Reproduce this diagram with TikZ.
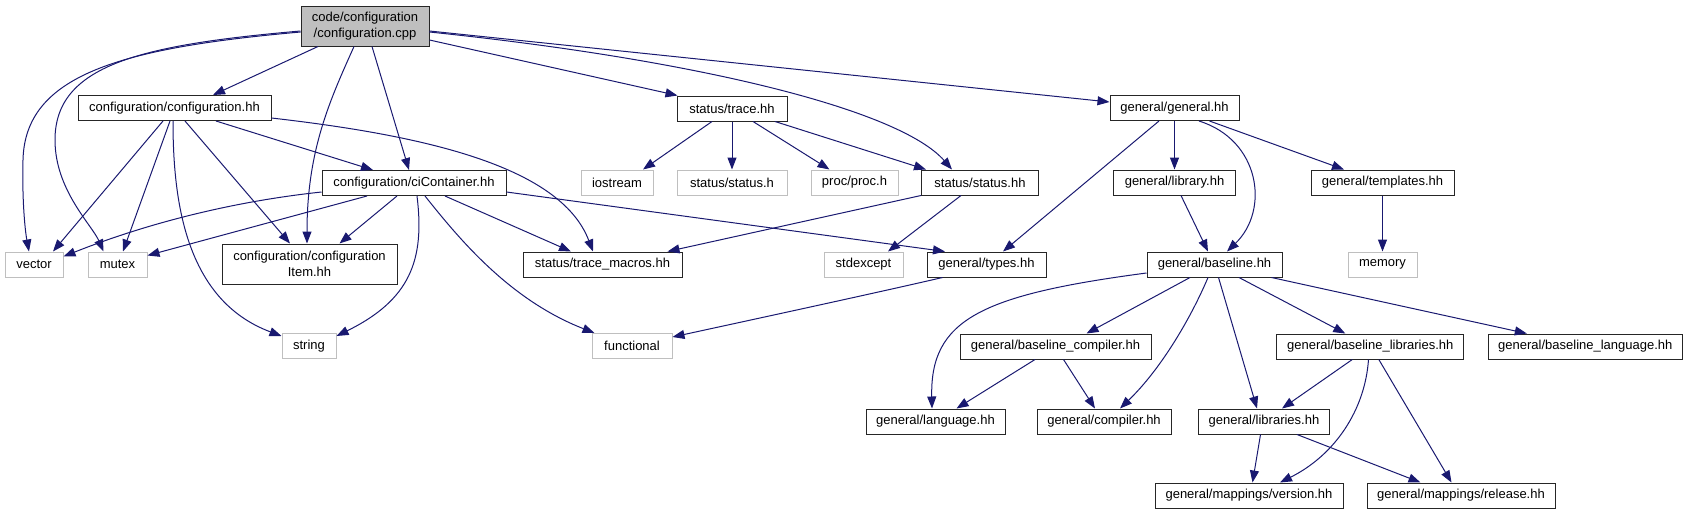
\documentclass[tikz,border=0pt]{standalone}
\usepackage{fontspec}
\setmainfont{Liberation Sans}
\usetikzlibrary{arrows.meta,calc}
\definecolor{edgeblue}{HTML}{191970}
\definecolor{greyline}{HTML}{BFBFBF}
\begin{document}
\begin{tikzpicture}[x=1pt,y=-1pt,
  filebox/.style={draw=black!85,line width=1pt,fill=white,inner sep=0pt,minimum height=25pt,align=center,font=\fontsize{13}{16.5}\selectfont},
  extbox/.style={filebox,draw=greyline},
  dep/.style={draw=edgeblue,line width=1pt,-{Triangle[length=12pt,width=9pt]}}]
\useasboundingbox (0,0) rectangle (1687,515);

\node[filebox,fill=greyline,minimum width=128pt,minimum height=40pt] (R) at (365,26) {code/configuration\\/configuration.cpp};
\node[filebox,minimum width=193pt] (CH) at (174.5,108) {configuration/configuration.hh};
\node[filebox,minimum width=184pt] (CI) at (414,183) {configuration/ciContainer.hh};
\node[extbox,minimum width=58pt] (VEC) at (34,264.5) {vector};
\node[extbox,minimum width=59pt] (MUT) at (117.5,264.5) {mutex};
\node[filebox,minimum width=175pt,minimum height=40pt] (CIT) at (309.5,264) {configuration/configuration\\Item.hh};
\node[extbox,minimum width=54pt] (STR) at (309,346) {string};
\node[filebox,minimum width=159pt] (TM) at (602.5,264.5) {status/trace\_macros.hh};
\node[extbox,minimum width=80pt] (FUN) at (632,346) {functional};
\node[filebox,minimum width=110pt] (TR) at (732,108.5) {status/trace.hh};
\node[extbox,minimum width=72pt] (IOS) at (617,182.5) {iostream};
\node[extbox,minimum width=110pt] (SH) at (732,182.5) {status/status.h};
\node[extbox,minimum width=87pt] (PROC) at (854.5,182.5) {proc/proc.h};
\node[extbox,minimum width=79pt] (STDE) at (863.5,264.5) {stdexcept};
\node[filebox,minimum width=117pt] (SS) at (980,182.5) {status/status.hh};
\node[filebox,minimum width=129pt] (GG) at (1174.5,108) {general/general.hh};
\node[filebox,minimum width=122pt] (LIB) at (1174.5,182.5) {general/library.hh};
\node[filebox,minimum width=143pt] (TPL) at (1382.5,182.5) {general/templates.hh};
\node[filebox,minimum width=119pt] (TY) at (986.5,264.5) {general/types.hh};
\node[filebox,minimum width=135pt] (BL) at (1214.5,264.5) {general/baseline.hh};
\node[extbox,minimum width=69pt] (MEM) at (1382.5,264.5) {memory};
\node[filebox,minimum width=191pt] (BC) at (1055.5,346.5) {general/baseline\_compiler.hh};
\node[filebox,minimum width=187pt] (BLL) at (1370.3,346.5) {general/baseline\_libraries.hh};
\node[filebox,minimum width=194pt] (BLANG) at (1585.3,346.5) {general/baseline\_language.hh};
\node[filebox,minimum width=139pt] (LANG) at (935.5,421.5) {general/language.hh};
\node[filebox,minimum width=134pt] (COMP) at (1104,421.5) {general/compiler.hh};
\node[filebox,minimum width=131pt] (LIBS) at (1264,421.5) {general/libraries.hh};
\node[filebox,minimum width=188pt] (VER) at (1249,495.5) {general/mappings/version.hh};
\node[filebox,minimum width=188pt] (REL) at (1461,495.5) {general/mappings/release.hh};

% root
\draw[dep] ($(R.west)+(0,6)$) .. controls (120,48) and (25,75) .. (23,160) .. controls (22,200) and (25,230) .. ($(VEC.north)+(-5,0)$);
\draw[dep] ($(R.west)+(0,5)$) .. controls (140,45) and (55,65) .. (55,140) .. controls (55,190) and (92,225) .. ($(MUT.north)+(-14,0)$);
\draw[dep] ($(R.south)+(-47,0)$) -- ($(CH.north)+(38.5,0)$);
\draw[dep] ($(R.south)+(-11,0)$) .. controls (330,100) and (307,150) .. ($(CIT.north)+(-2.5,0)$);
\draw[dep] ($(R.south)+(7,0)$) -- ($(CI.north)+(-5,0)$);
\draw[dep] ($(R.east)+(0,14)$) -- ($(TR.north west)+(1,0)$);
\draw[dep] ($(R.east)+(0,6)$) .. controls (700,60) and (900,110) .. ($(SS.north west)+(31,0)$);
\draw[dep] ($(R.east)+(0,5)$) -- ($(GG.west)+(0,-6)$);
% configuration.hh
\draw[dep] ($(CH.south)+(-11.5,0)$) -- ($(VEC.north)+(19,0)$);
\draw[dep] ($(CH.south)+(-4.5,0)$) -- ($(MUT.north)+(5.5,0)$);
\draw[dep] ($(CH.south)+(-1.5,0)$) .. controls (173,200) and (185,300) .. ($(STR.north west)+(0,3)$);
\draw[dep] ($(CH.south)+(10.5,0)$) -- ($(CIT.north)+(-19.5,0)$);
\draw[dep] ($(CH.south)+(41.5,0)$) -- ($(CI.north)+(-41,0)$);
\draw[dep] ($(CH.east)+(0,10)$) .. controls (420,135) and (560,165) .. ($(TM.north)+(-9.5,0)$);
% ciContainer.hh
\draw[dep] ($(CI.west)+(0,9)$) .. controls (200,205) and (110,238) .. ($(VEC.east)+(0,-8)$);
\draw[dep] ($(CI.south)+(-47,0)$) -- ($(MUT.east)+(0,-9)$);
\draw[dep] ($(CI.south)+(-17,0)$) -- ($(CIT.north)+(30,0)$);
\draw[dep] ($(CI.south)+(3,0)$) .. controls (425,260) and (410,300) .. ($(STR.north east)+(0,3)$);
\draw[dep] ($(CI.south)+(11,0)$) .. controls (460,240) and (510,300) .. ($(FUN.north west)+(3,0)$);
\draw[dep] ($(CI.south)+(31,0)$) -- ($(TM.north)+(-31.5,0)$);
\draw[dep] ($(CI.east)+(0,9)$) -- ($(TY.north west)+(18.5,0)$);
% trace.hh
\draw[dep] ($(TR.south)+(-20,0)$) -- ($(IOS.north)+(26,0)$);
\draw[dep] (TR.south) -- (SH.north);
\draw[dep] ($(TR.south)+(21,0)$) -- ($(PROC.north west)+(19,0)$);
\draw[dep] ($(TR.south)+(43,0)$) -- ($(SS.north west)+(5,0)$);
% status.hh
\draw[dep] (SS.south west) -- ($(TM.north east)+(-15,0)$);
\draw[dep] ($(SS.south)+(-19,0)$) -- ($(STDE.north)+(24.5,0)$);
% general.hh
\draw[dep] ($(GG.south)+(-15.5,0)$) -- ($(TY.north)+(16.5,0)$);
\draw[dep] (GG.south) -- (LIB.north);
\draw[dep] ($(GG.south)+(24.5,0)$) .. controls (1260,140) and (1270,210) .. ($(BL.north)+(12.5,0)$);
\draw[dep] ($(GG.south)+(35,0)$) -- ($(TPL.north)+(-38.5,0)$);
\draw[dep] ($(LIB.south)+(6.5,0)$) -- ($(BL.north)+(-6.5,0)$);
\draw[dep] (TPL.south) -- (MEM.north);
\draw[dep] ($(TY.south west)+(16,0)$) .. controls (880,292) and (760,318) .. ($(FUN.east)+(0,-9)$);
% baseline.hh
\draw[dep] ($(BL.west)+(0,8.5)$) .. controls (980,295) and (930,320) .. ($(LANG.north)+(-3.5,0)$);
\draw[dep] ($(BL.south)+(-24.5,0)$) -- ($(BC.north)+(31,0)$);
\draw[dep] ($(BL.south)+(-6.5,0)$) .. controls (1190,320) and (1160,370) .. ($(COMP.north)+(16,0)$);
\draw[dep] ($(BL.south)+(4,0)$) -- ($(LIBS.north)+(-7,0)$);
\draw[dep] ($(BL.south)+(24.5,0)$) -- ($(BLL.north)+(-25,0)$);
\draw[dep] ($(BL.south)+(57,0)$) -- ($(BLANG.north)+(-58.5,0)$);
% baseline_compiler.hh
\draw[dep] ($(BC.south)+(-20.5,0)$) -- ($(LANG.north)+(21,0)$);
\draw[dep] ($(BC.south)+(8,0)$) -- ($(COMP.north)+(-9,0)$);
% baseline_libraries.hh
\draw[dep] ($(BLL.south)+(-18,0)$) -- ($(LIBS.north)+(18,0)$);
\draw[dep] ($(BLL.south)+(-1.8,0)$) .. controls (1365,410) and (1335,455) .. ($(VER.north)+(31,0)$);
\draw[dep] ($(BLL.south)+(8.5,0)$) -- ($(REL.north)+(-9.5,0)$);
% libraries.hh
\draw[dep] ($(LIBS.south)+(-3.5,0)$) -- ($(VER.north)+(3.5,0)$);
\draw[dep] ($(LIBS.south)+(33,0)$) -- ($(REL.north)+(-40.5,0)$);
\end{tikzpicture}
\end{document}
